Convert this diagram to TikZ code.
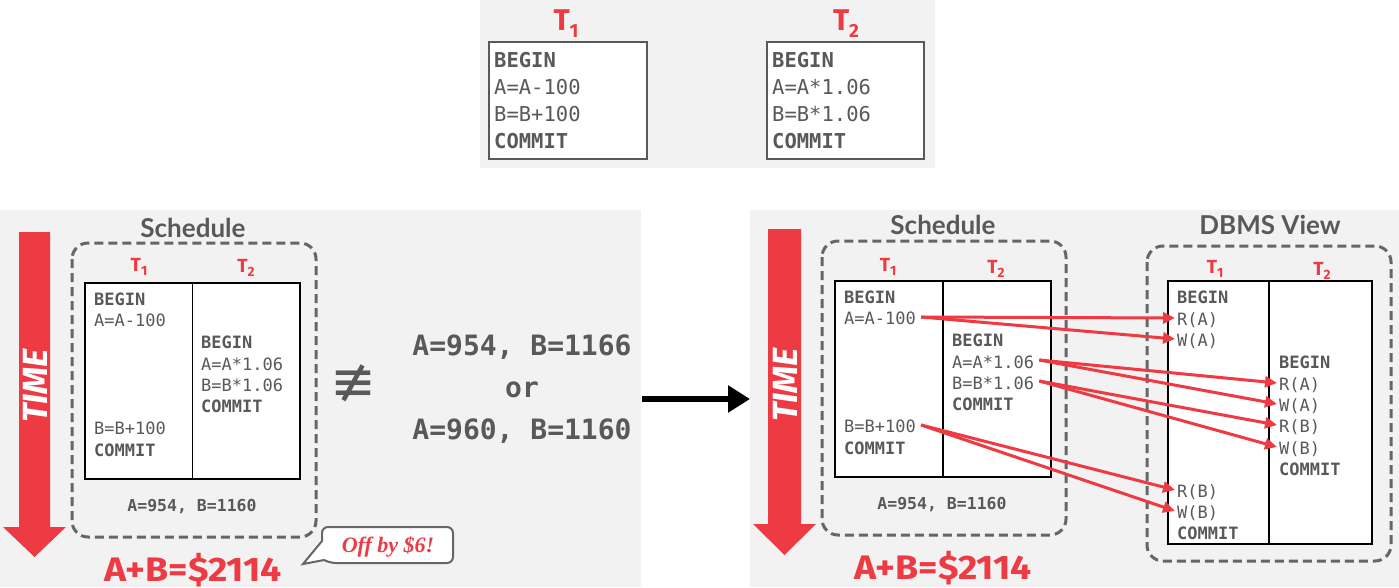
\documentclass[tikz,border=0pt]{standalone}
\usepackage{fontspec}
\setmonofont{DejaVu Sans Mono}
\newfontfamily\latofont{Lato}
\newfontfamily\firafont{Fira Sans}
\newfontfamily\dejavufont{DejaVu Sans}
\newfontfamily\seriffont{Liberation Serif}
\usetikzlibrary{arrows.meta}
\definecolor{myred}{RGB}{238,58,67}
\definecolor{panel}{RGB}{242,242,242}
\definecolor{txt}{RGB}{89,89,89}
\definecolor{dashc}{RGB}{102,102,102}
\newcommand\fsz[1]{\fontsize{#1}{#1}\selectfont}
\newcommand\TbigL[1]{{\firafont\bfseries\fsz{30}T\raisebox{-7pt}{\fsz{19}#1}}}
\newcommand\TsmL[1]{{\firafont\bfseries\fsz{19}T\raisebox{-4pt}{\fsz{13.5}#1}}}
\tikzset{
  x=1pt, y=-1pt,
  panelbg/.style={fill=panel, draw=none},
  topbox/.style={draw=txt, line width=2.5pt, fill=white},
  tbl/.style={draw=black, line width=1.3pt, fill=white},
  divider/.style={draw=black, line width=1.3pt},
  schedbox/.style={draw=dashc, line width=3pt, rounded corners=16pt, dash pattern=on 9pt off 5pt},
  code/.style={anchor=base west, inner sep=0pt, text=txt, font=\ttfamily\fsz{17}},
  codeb/.style={code, font=\ttfamily\bfseries\fsz{17}},
  bigcode/.style={anchor=base west, inner sep=0pt, text=txt, font=\ttfamily\fsz{20.5}},
  bigcodeb/.style={bigcode, font=\ttfamily\bfseries\fsz{20.5}},
  tlab/.style={anchor=base, inner sep=0pt, text=myred},
  titletext/.style={anchor=base, inner sep=0pt, text=txt, font=\latofont\bfseries\fsz{26}},
  result/.style={anchor=base, inner sep=0pt, text=txt, font=\ttfamily\bfseries\fsz{16.5}},
  bigres/.style={anchor=base, inner sep=0pt, text=txt, font=\ttfamily\bfseries\fsz{28}},
  sumtext/.style={anchor=base, inner sep=0pt, text=myred, font=\firafont\bfseries\fsz{34}},
  timetext/.style={inner sep=0pt, text=white, font=\firafont\bfseries\itshape\fsz{35}, rotate=90},
  timearrow/.style={fill=myred, draw=none},
  redarrow/.style={draw=myred, line width=3pt, -{Triangle[length=12pt,width=11pt]}},
  blackarrow/.style={draw=black, line width=6pt, -{Triangle[length=22pt,width=26pt]}},
  callout/.style={draw=dashc, line width=2pt, fill=white},
}
\begin{document}
\begin{tikzpicture}
\useasboundingbox (0,0) rectangle (1399,588);
\fill[white] (0,0) rectangle (1399,588);
% panels
\fill[panelbg] (480,0) rectangle (935,168);
\fill[panelbg] (0,210) rectangle (641,587);
\fill[panelbg] (750,210) rectangle (1399,587);

% ---------- top transactions ----------
\node[tlab] (topT1) at (566,31) {\TbigL{1}};
\node[tlab] (topT2) at (846,31) {\TbigL{2}};
\draw[topbox] (489,42) rectangle (647,159);
\draw[topbox] (767,42) rectangle (924,159);
\node[bigcodeb] (a1) at (494,68) {BEGIN};
\node[bigcode]  (a2) at (494,95) {A=A-100};
\node[bigcode]  (a3) at (494,122) {B=B+100};
\node[bigcodeb] (a4) at (494,149) {COMMIT};
\node[bigcodeb] (b1) at (772,68) {BEGIN};
\node[bigcode]  (b2) at (772,95) {A=A*1.06};
\node[bigcode]  (b3) at (772,122) {B=B*1.06};
\node[bigcodeb] (b4) at (772,149) {COMMIT};

% ---------- left panel ----------
\fill[timearrow] (19,232) -- (50,232) -- (50,527) -- (66,527) -- (34.5,557) -- (3,527) -- (19,527) -- cycle;
\node[timetext] (timeL) at (35,386) {TIME};
\node[titletext] (schedL) at (193,237) {Schedule};
\draw[schedbox] (72,243) rectangle (316,537);
\node[tlab] (lT1) at (139,271) {\TsmL{1}};
\node[tlab] (lT2) at (246,272) {\TsmL{2}};
\draw[tbl] (85,283) rectangle (300,479);
\draw[divider] (192.5,283) -- (192.5,479);
\node[codeb] (l1) at (94,305) {BEGIN};
\node[code]  (l2) at (94,326) {A=A-100};
\node[codeb] (l3) at (201,348) {BEGIN};
\node[code]  (l4) at (201,370) {A=A*1.06};
\node[code]  (l5) at (201,391) {B=B*1.06};
\node[codeb] (l6) at (201,412) {COMMIT};
\node[code]  (l7) at (94,434) {B=B+100};
\node[codeb] (l8) at (94,456) {COMMIT};
\node[result] (resL) at (192,511) {A=954, B=1160};
\node[sumtext] (sumL) at (193,581) {\scalebox{1.1}[1]{A+B=\$2114}};

\node[inner sep=0pt, text=txt, font=\dejavufont\fsz{55}] (neq) at (354,383) {≢};
\node[bigres] (r1) at (522,355) {A=954, B=1166};
\node[bigres] (r2) at (522,397) {or};
\node[bigres] (r3) at (522,439) {A=960, B=1160};

\draw[callout] (322,541) [rounded corners=6pt] -- (322,527) -- (453,527) -- (453,563) -- (330,563) [sharp corners] -- (324,560) -- (303,564) -- cycle;
\node[anchor=base, inner sep=0pt, text=myred, font=\seriffont\bfseries\itshape\fsz{22}] (off) at (388,552) {Off by \$6!};

% black arrow
\coordinate (bsrc) at (642,399);
\coordinate (bdst) at (750,399);
\draw[blackarrow] (bsrc) -- (bdst);

% ---------- right panel ----------
\fill[timearrow] (768,229) -- (801,229) -- (801,524) -- (816,524) -- (784.5,555) -- (753,524) -- (768,524) -- cycle;
\node[timetext] (timeR) at (785,385) {TIME};
\node[titletext] (schedR) at (943,234) {Schedule};
\draw[schedbox] (822,241) rectangle (1066,535);
\node[tlab] (rT1) at (888,271) {\TsmL{1}};
\node[tlab] (rT2) at (996,273) {\TsmL{2}};
\draw[tbl] (835,281) rectangle (1051,477);
\draw[divider] (943,281) -- (943,477);
\node[codeb] (s1) at (844,303) {BEGIN};
\node[code]  (s2) at (844,324) {A=A-100};
\node[codeb] (s3) at (952,346) {BEGIN};
\node[code]  (s4) at (952,368) {A=A*1.06};
\node[code]  (s5) at (952,389) {B=B*1.06};
\node[codeb] (s6) at (952,410) {COMMIT};
\node[code]  (s7) at (844,432) {B=B+100};
\node[codeb] (s8) at (844,454) {COMMIT};
\node[result] (resR) at (942,509) {A=954, B=1160};
\node[sumtext] (sumR) at (943,579) {\scalebox{1.1}[1]{A+B=\$2114}};

\node[titletext] (dbms) at (1270,234) {DBMS View};
\draw[schedbox] (1147,246) rectangle (1391,561);
\node[tlab] (dT1) at (1215,273) {\TsmL{1}};
\node[tlab] (dT2) at (1322,275) {\TsmL{2}};
\draw[tbl] (1168,281) rectangle (1372,544);
\draw[divider] (1269,281) -- (1269,544);
\node[codeb] (d1) at (1177,303) {BEGIN};
\node[code]  (d2) at (1177,325) {R(A)};
\node[code]  (d3) at (1177,346) {W(A)};
\node[code]  (d4) at (1177,497) {R(B)};
\node[code]  (d5) at (1177,518) {W(B)};
\node[codeb] (d6) at (1177,539) {COMMIT};
\node[codeb] (e1) at (1279,368) {BEGIN};
\node[code]  (e2) at (1279,390) {R(A)};
\node[code]  (e3) at (1279,411) {W(A)};
\node[code]  (e4) at (1279,432) {R(B)};
\node[code]  (e5) at (1279,454) {W(B)};
\node[codeb] (e6) at (1279,475) {COMMIT};

% red arrows
\draw[redarrow] ([xshift=5pt,yshift=7pt]s2.base east) -- ([xshift=-2pt,yshift=7pt]d2.base west);
\draw[redarrow] ([xshift=5pt,yshift=7pt]s2.base east) -- ([xshift=-2pt,yshift=7pt]d3.base west);
\draw[redarrow] ([xshift=5pt,yshift=8pt]s4.base east) -- ([xshift=-2pt,yshift=7pt]e2.base west);
\draw[redarrow] ([xshift=5pt,yshift=8pt]s4.base east) -- ([xshift=-2pt,yshift=7pt]e3.base west);
\draw[redarrow] ([xshift=5pt,yshift=8pt]s5.base east) -- ([xshift=-2pt,yshift=7pt]e4.base west);
\draw[redarrow] ([xshift=5pt,yshift=8pt]s5.base east) -- ([xshift=-2pt,yshift=7pt]e5.base west);
\draw[redarrow] ([xshift=5pt,yshift=7pt]s7.base east) -- ([xshift=-2pt,yshift=7pt]d4.base west);
\draw[redarrow] ([xshift=5pt,yshift=7pt]s7.base east) -- ([xshift=-2pt,yshift=7pt]d5.base west);
\end{tikzpicture}
\end{document}
